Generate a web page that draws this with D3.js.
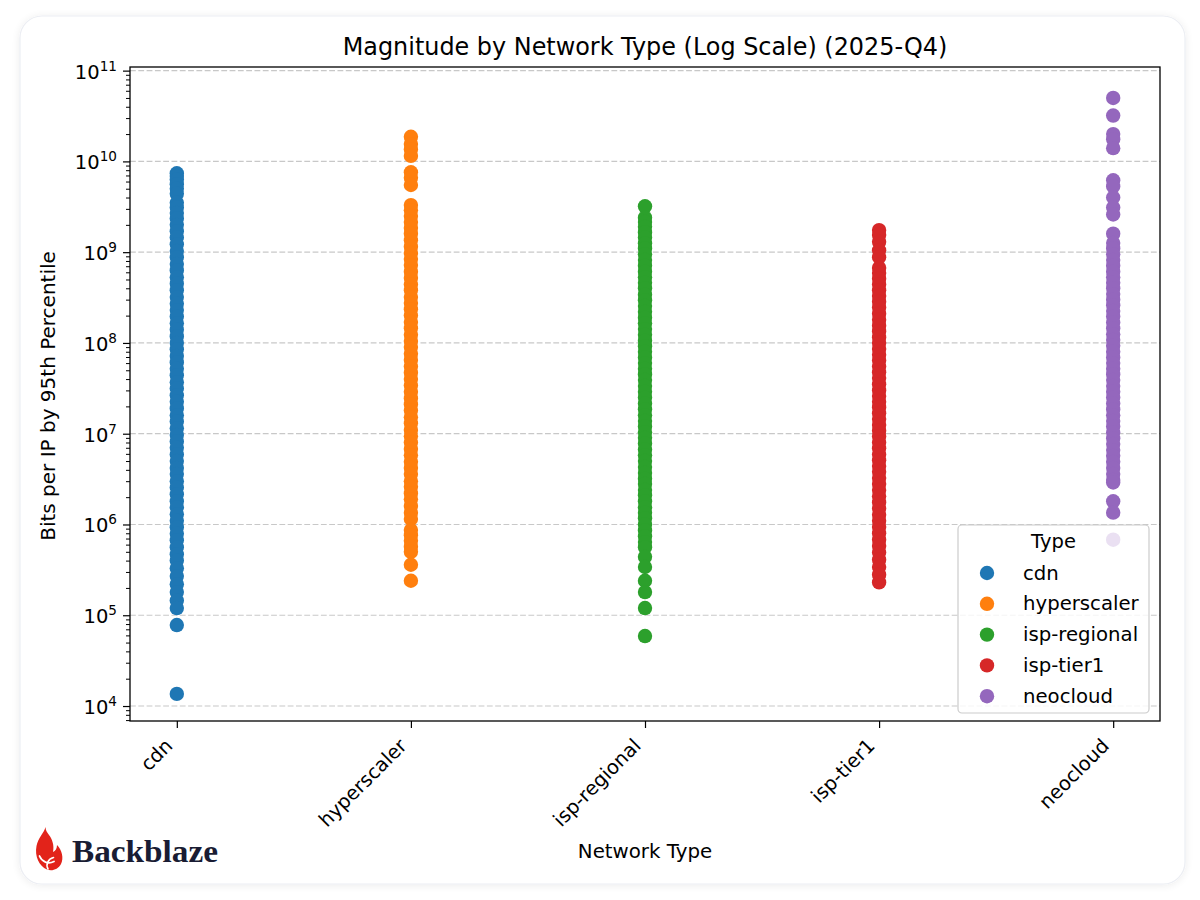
<!DOCTYPE html>
<html><head><meta charset="utf-8">
<script src="https://cdn.jsdelivr.net/npm/d3@7"></script>
<style>
html,body{margin:0;padding:0;background:#ffffff;}
svg{display:block;font-family:"DejaVu Sans",sans-serif;}
</style></head><body>
<svg id="chart" width="1200" height="900"></svg>
<script>
// ---------------- data ----------------
const categories = ["cdn", "hyperscaler", "isp-regional", "isp-tier1", "neocloud"];
const colors = ["#1f77b4", "#ff7f0e", "#2ca02c", "#d62728", "#9467bd"];

const cdnValues = [7.4e9, 6.9e9, 6.3e9, 5.6e9, 5.0e9, 4.4e9, 3.5e9, 3.1e9, 2.7e9, 2.35e9, 2.0e9, 1.7e9, 1.45e9, 1.22e9, 1.03e9,
  8.8e8, 7.4e8, 6.3e8, 5.3e8, 4.5e8, 3.8e8, 3.2e8, 2.7e8, 2.3e8, 1.95e8, 1.65e8, 1.4e8, 1.18e8, 1.0e8,
  8.5e7, 7.2e7, 6.1e7, 5.2e7, 4.4e7, 3.7e7, 3.15e7, 2.65e7, 2.25e7, 1.9e7, 1.6e7, 1.36e7, 1.15e7,
  9.7e6, 8.2e6, 7.0e6, 5.9e6, 5.0e6, 4.2e6, 3.6e6, 3.0e6, 2.55e6, 2.15e6, 1.8e6, 1.55e6, 1.3e6, 1.1e6,
  9.3e5, 7.9e5, 6.7e5, 5.6e5, 4.7e5, 4.0e5, 3.3e5, 2.7e5, 2.2e5, 1.8e5, 1.45e5, 1.2e5, 7.8e4, 1.36e4];

const hyperscalerValues = [1.87e10, 1.55e10, 1.35e10, 1.15e10, 7.6e9, 6.6e9, 5.5e9, 3.3e9, 2.9e9, 2.5e9, 2.15e9, 1.85e9, 1.6e9, 1.35e9, 1.15e9,
  9.8e8, 8.4e8, 7.2e8, 6.1e8, 5.2e8, 4.4e8, 3.8e8, 3.2e8, 2.75e8, 2.35e8, 2.0e8, 1.7e8, 1.45e8, 1.23e8, 1.05e8,
  9.0e7, 7.6e7, 6.5e7, 5.5e7, 4.7e7, 4.0e7, 3.4e7, 2.9e7, 2.45e7, 2.1e7, 1.8e7, 1.52e7, 1.3e7, 1.1e7,
  9.4e6, 8.0e6, 6.8e6, 5.8e6, 4.9e6, 4.2e6, 3.6e6, 3.0e6, 2.6e6, 2.2e6, 1.9e6, 1.6e6, 1.35e6, 1.15e6,
  8.7e5, 7.6e5, 6.6e5, 5.7e5, 5.0e5, 3.6e5, 2.4e5];

const ispRegionalValues = [3.2e9, 2.4e9, 2.15e9, 1.9e9, 1.65e9, 1.45e9, 1.25e9, 1.1e9,
  9.5e8, 8.2e8, 7.1e8, 6.1e8, 5.3e8, 4.6e8, 4.0e8, 3.4e8, 2.95e8, 2.55e8, 2.2e8, 1.9e8, 1.65e8, 1.42e8, 1.23e8, 1.06e8,
  9.2e7, 8.0e7, 6.9e7, 6.0e7, 5.2e7, 4.5e7, 3.9e7, 3.35e7, 2.9e7, 2.5e7, 2.15e7, 1.86e7, 1.6e7, 1.38e7, 1.2e7, 1.04e7,
  9.0e6, 7.8e6, 6.7e6, 5.8e6, 5.0e6, 4.3e6, 3.7e6, 3.2e6, 2.8e6, 2.4e6, 2.1e6, 1.8e6, 1.55e6, 1.35e6, 1.17e6, 1.0e6,
  8.6e5, 7.4e5, 6.4e5, 5.6e5, 4.4e5, 3.4e5, 2.4e5, 1.8e5, 1.2e5, 5.9e4];

const ispTier1Values = [1.75e9, 1.55e9, 1.3e9, 1.05e9, 8.8e8, 6.7e8, 5.9e8, 5.1e8, 4.4e8, 3.8e8, 3.3e8, 2.85e8, 2.45e8, 2.1e8, 1.8e8,
  1.55e8, 1.34e8, 1.15e8, 1.0e8, 8.6e7, 7.4e7, 6.4e7, 5.5e7, 4.75e7, 4.1e7, 3.5e7, 3.0e7, 2.6e7, 2.25e7, 1.95e7,
  1.68e7, 1.45e7, 1.25e7, 1.08e7, 9.3e6, 8.0e6, 6.9e6, 5.9e6, 5.1e6, 4.4e6, 3.8e6, 3.25e6, 2.8e6, 2.4e6, 2.05e6,
  1.75e6, 1.5e6, 1.28e6, 1.1e6, 9.4e5, 8.0e5, 6.8e5, 5.8e5, 4.9e5, 4.1e5, 3.4e5, 2.8e5, 2.3e5];

const neocloudValues = [5.0e10, 3.2e10, 2.0e10, 1.75e10, 1.4e10, 6.2e9, 5.3e9, 4.0e9, 3.1e9, 2.6e9, 1.6e9, 1.26e9, 1.1e9,
  9.5e8, 8.2e8, 7.1e8, 6.1e8, 5.3e8, 4.6e8, 4.0e8, 3.45e8, 3.0e8, 2.6e8, 2.25e8, 1.95e8, 1.68e8, 1.45e8, 1.25e8, 1.08e8,
  9.3e7, 8.0e7, 6.9e7, 6.0e7, 5.2e7, 4.5e7, 3.9e7, 3.35e7, 2.9e7, 2.5e7, 2.15e7, 1.85e7, 1.6e7, 1.38e7, 1.2e7, 1.03e7,
  8.9e6, 7.7e6, 6.6e6, 5.7e6, 4.9e6, 4.2e6, 3.6e6, 3.1e6, 2.9e6, 1.8e6, 1.35e6, 6.8e5];

const seriesValues = [cdnValues, hyperscalerValues, ispRegionalValues, ispTier1Values, neocloudValues];
const yTickExponents = [4, 5, 6, 7, 8, 9, 10, 11];
const titleText = "Magnitude by Network Type (Log Scale) (2025-Q4)";
const xLabelText = "Network Type";
const yLabelText = "Bits per IP by 95th Percentile";
const legendTitle = "Type";

// ---------------- layout ----------------
const svg = d3.select("#chart");
const plot = {left: 130, right: 1160, top: 67, bottom: 721};
const R = 7.2;

// card background
const defs = svg.append("defs");
const f = defs.append("filter").attr("id", "shadow").attr("x", "-5%").attr("y", "-5%").attr("width", "110%").attr("height", "110%");
f.append("feGaussianBlur").attr("in", "SourceAlpha").attr("stdDeviation", 4);
f.append("feOffset").attr("dy", 1).attr("result", "b");
f.append("feComponentTransfer").append("feFuncA").attr("type", "linear").attr("slope", 0.08);
const fm = f.append("feMerge"); fm.append("feMergeNode"); fm.append("feMergeNode").attr("in", "SourceGraphic");
svg.append("rect").attr("x", 20).attr("y", 16).attr("width", 1165).attr("height", 868).attr("rx", 22)
  .attr("fill", "#fff").attr("stroke", "#eceef3").attr("stroke-width", 1.2).attr("filter", "url(#shadow)");

const y = d3.scaleLog().domain([Math.pow(10, 3.835), Math.pow(10, 11.04)]).range([plot.bottom, plot.top]);
const x = d3.scalePoint().domain(categories).range([plot.left, plot.right]).padding(0.2);

// grid
const decades = yTickExponents.map(e => Math.pow(10, e));
svg.append("g").selectAll("line").data(decades).join("line")
  .attr("x1", plot.left).attr("x2", plot.right)
  .attr("y1", d => y(d)).attr("y2", d => y(d))
  .attr("stroke", "#b0b0b0").attr("stroke-opacity", 0.7).attr("stroke-width", 1.2)
  .attr("stroke-dasharray", "5.8,2.5");

// points
categories.forEach((c, i) => {
  svg.append("g").selectAll("circle").data(seriesValues[i]).join("circle")
    .attr("cx", x(c)).attr("cy", d => y(d)).attr("r", R).attr("fill", colors[i]);
});

// spines
svg.append("rect").attr("x", plot.left).attr("y", plot.top)
  .attr("width", plot.right - plot.left).attr("height", plot.bottom - plot.top)
  .attr("fill", "none").attr("stroke", "#000").attr("stroke-width", 1.3);

// y axis major ticks
const yAxis = d3.axisLeft(y).tickValues(decades).tickSize(7).tickFormat("");
const gy = svg.append("g").attr("transform", `translate(${plot.left},0)`).call(yAxis);
gy.select(".domain").remove();
gy.selectAll("line").attr("stroke", "#000").attr("stroke-width", 1.2);
// minor
const minors = [];
for (let e = 3; e <= 11; e++) for (let m = 2; m <= 9; m++) {
  const v = m * Math.pow(10, e);
  if (v >= y.domain()[0] && v <= y.domain()[1]) minors.push(v);
}
const gym = svg.append("g").attr("transform", `translate(${plot.left},0)`)
  .call(d3.axisLeft(y).tickValues(minors).tickSize(4).tickFormat(""));
gym.select(".domain").remove();
gym.selectAll("line").attr("stroke", "#000").attr("stroke-width", 1);

// y tick labels with superscripts
const ylab = svg.append("g");
yTickExponents.forEach(e => {
  const t = ylab.append("text").attr("x", 117).attr("y", y(Math.pow(10, e)) + 8)
    .attr("text-anchor", "end").attr("font-size", 19.5).attr("fill", "#000");
  t.append("tspan").text("10");
  t.append("tspan").attr("dy", -8).attr("font-size", 13.6).text(String(e));
});

// x axis ticks
const xAxis = d3.axisBottom(x).tickSize(7).tickFormat("");
const gx = svg.append("g").attr("transform", `translate(0,${plot.bottom})`).call(xAxis);
gx.select(".domain").remove();
gx.selectAll("line").attr("stroke", "#000").attr("stroke-width", 1.2);
svg.append("g").selectAll("text").data(categories).join("text")
  .attr("transform", d => `translate(${x(d) - 3},${plot.bottom + 26}) rotate(-45)`)
  .attr("text-anchor", "end").attr("font-size", 19.5).attr("fill", "#000")
  .text(d => d);

// labels
svg.append("text").attr("x", (plot.left + plot.right) / 2).attr("y", 55).attr("text-anchor", "middle")
  .attr("font-size", 23.9).attr("fill", "#000").text(titleText);
svg.append("text").attr("x", (plot.left + plot.right) / 2).attr("y", 858).attr("text-anchor", "middle")
  .attr("font-size", 19.8).attr("fill", "#000").text(xLabelText);
svg.append("text").attr("transform", `translate(55,${(plot.top + plot.bottom) / 2 + 2}) rotate(-90)`)
  .attr("text-anchor", "middle").attr("font-size", 20).attr("fill", "#000").text(yLabelText);

// legend
const lg = svg.append("g");
lg.append("rect").attr("x", 958).attr("y", 525).attr("width", 191).attr("height", 188).attr("rx", 4)
  .attr("fill", "#fff").attr("fill-opacity", 0.8).attr("stroke", "#cccccc").attr("stroke-width", 1.2);
lg.append("text").attr("x", 1053.5).attr("y", 548).attr("text-anchor", "middle").attr("font-size", 19.5).text(legendTitle);
categories.forEach((c, i) => {
  const cy = 573 + i * 30.8;
  lg.append("circle").attr("cx", 987).attr("cy", cy).attr("r", R).attr("fill", colors[i]);
  lg.append("text").attr("x", 1023).attr("y", cy + 6.5).attr("font-size", 19.7).attr("fill", "#000").text(c);
});

// Backblaze logo
const logo = svg.append("g");
logo.append("path").attr("fill", "#e2231a").attr("d",
  "M45.5,827 C44,833 38,838 36.5,846 C34.5,856 39,866 47,869.5 C52,871.5 58,869.5 61,864 C64,858 62,850 57,845 C57,848.5 55.5,851 53,852 C54.5,845 52,839 49,835 C47,832.5 45.5,830 45.5,827 Z");
logo.append("path").attr("fill", "none").attr("stroke", "#fff").attr("stroke-width", 1.8).attr("stroke-linecap", "round")
  .attr("d", "M39.5,856 C42,862 48,864.5 54,861.5");
logo.append("path").attr("fill", "none").attr("stroke", "#fff").attr("stroke-width", 1.6).attr("stroke-linecap", "round")
  .attr("d", "M48,869 C45.5,864.5 48,859 53.5,857.5");
logo.append("text").attr("x", 72).attr("y", 862).attr("font-family", "'Liberation Serif', serif").attr("font-weight", "bold")
  .attr("font-size", 32).attr("fill", "#191c33").attr("textLength", 146).attr("lengthAdjust", "spacingAndGlyphs").text("Backblaze");
</script>
</body></html>
